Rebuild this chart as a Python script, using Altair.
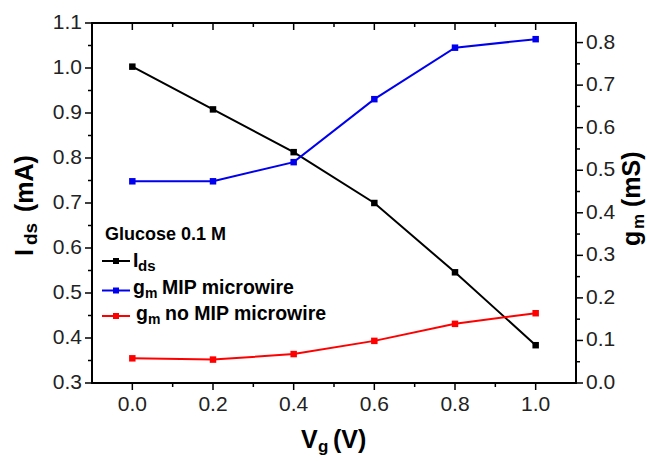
import altair as alt
import pandas as pd

# ---------------- data ----------------
vg = [0.0, 0.2, 0.4, 0.6, 0.8, 1.0]
ids_ma = [1.003, 0.908, 0.813, 0.700, 0.546, 0.384]
gm_mip = [0.474, 0.474, 0.519, 0.667, 0.788, 0.808]
gm_nomip = [0.058, 0.055, 0.068, 0.099, 0.139, 0.164]

x_major = [0.0, 0.2, 0.4, 0.6, 0.8, 1.0]
x_major_labels = ["0.0", "0.2", "0.4", "0.6", "0.8", "1.0"]
x_minor = [0.1, 0.3, 0.5, 0.7, 0.9]
yl_major = [0.3, 0.4, 0.5, 0.6, 0.7, 0.8, 0.9, 1.0, 1.1]
yl_major_labels = ["0.3", "0.4", "0.5", "0.6", "0.7", "0.8", "0.9", "1.0", "1.1"]
yl_minor = [0.35, 0.45, 0.55, 0.65, 0.75, 0.85, 0.95, 1.05]
yr_major = [0.0, 0.1, 0.2, 0.3, 0.4, 0.5, 0.6, 0.7, 0.8]
yr_major_labels = ["0.0", "0.1", "0.2", "0.3", "0.4", "0.5", "0.6", "0.7", "0.8"]
yr_minor = [0.05, 0.15, 0.25, 0.35, 0.45, 0.55, 0.65, 0.75]

series_names = ["MIP microwire", "no MIP microwire"]
series_colors = ["#0000ee", "#ff0000"]

FONT = "Liberation Sans"
W, H = 484, 360
OX, OY = 92, 23  # plot origin in page pixels

df_ids = pd.DataFrame({"Vg": vg, "val": ids_ma})
df_gm = pd.DataFrame({
    "Vg": vg + vg,
    "val": gm_mip + gm_nomip,
    "series": [series_names[0]] * len(vg) + [series_names[1]] * len(vg),
})

xs = alt.Scale(domain=[-0.1, 1.1], nice=False, zero=False)
yl = alt.Scale(domain=[0.3, 1.1], nice=False, zero=False)
yr = alt.Scale(domain=[0.0, 0.846], nice=False, zero=False)

TICK_W = 1.5
LABEL_SIZE = 21
LABEL_COLOR = "#222222"


def ticks_y(values, scale, x1, x2):
    return alt.Chart(pd.DataFrame({"t": values})).mark_rule(color="black", strokeWidth=TICK_W).encode(
        y=alt.Y("t:Q", scale=scale, axis=None), x=alt.value(x1), x2=alt.value(x2)
    )


def ticks_x(values, y1, y2):
    return alt.Chart(pd.DataFrame({"t": values})).mark_rule(color="black", strokeWidth=TICK_W).encode(
        x=alt.X("t:Q", scale=xs, axis=None), y=alt.value(y1), y2=alt.value(y2)
    )


def labels_y(values, texts, scale, x, align):
    return alt.Chart(pd.DataFrame({"t": values, "s": texts})).mark_text(
        font=FONT, fontSize=LABEL_SIZE, color=LABEL_COLOR, align=align, baseline="middle"
    ).encode(y=alt.Y("t:Q", scale=scale, axis=None), x=alt.value(x), text="s:N")


# ---------------- left group (I_ds) ----------------
ids_line = alt.Chart(df_ids).mark_line(color="black", strokeWidth=2).encode(
    x=alt.X("Vg:Q", scale=xs, axis=None),
    y=alt.Y("val:Q", scale=yl, axis=None),
)
ids_pts = alt.Chart(df_ids).mark_square(color="black", size=42, opacity=1).encode(
    x=alt.X("Vg:Q", scale=xs, axis=None),
    y=alt.Y("val:Q", scale=yl, axis=None),
)
x_labels = alt.Chart(pd.DataFrame({"t": x_major, "s": x_major_labels})).mark_text(
    font=FONT, fontSize=LABEL_SIZE, color=LABEL_COLOR, align="center", baseline="middle"
).encode(x=alt.X("t:Q", scale=xs, axis=None), y=alt.value(H + 22), text="s:N")

left_group = alt.layer(
    ids_line, ids_pts,
    ticks_y(yl_major, yl, -7, 0), ticks_y(yl_minor, yl, -4, 0),
    labels_y(yl_major, yl_major_labels, yl, -10, "right"),
    ticks_x(x_major, H, H + 7), ticks_x(x_minor, H, H + 4),
    ticks_x(x_major, 0, 7), ticks_x(x_minor, 0, 4),
    x_labels,
)

# ---------------- right group (g_m) ----------------
color_scale = alt.Scale(domain=series_names, range=series_colors)
gm_line = alt.Chart(df_gm).mark_line(strokeWidth=2).encode(
    x=alt.X("Vg:Q", scale=xs, axis=None),
    y=alt.Y("val:Q", scale=yr, axis=None),
    color=alt.Color("series:N", scale=color_scale, legend=None),
)
gm_pts = alt.Chart(df_gm).mark_square(size=42, opacity=1).encode(
    x=alt.X("Vg:Q", scale=xs, axis=None),
    y=alt.Y("val:Q", scale=yr, axis=None),
    color=alt.Color("series:N", scale=color_scale, legend=None),
)
right_group = alt.layer(
    gm_line, gm_pts,
    ticks_y(yr_major, yr, W, W + 7), ticks_y(yr_minor, yr, W, W + 4),
    labels_y(yr_major, yr_major_labels, yr, W + 10, "left"),
)

# ---------------- annotations ----------------
_one = pd.DataFrame({"a": [0]})


def txt(text, x, y, size, angle=0, weight="bold", color="black"):
    return alt.Chart(_one).mark_text(
        text=text, font=FONT, fontSize=size, fontWeight=weight, angle=angle,
        align="left", baseline="alphabetic", color=color,
    ).encode(x=alt.value(x - OX), y=alt.value(y - OY))


def seg(x1, x2, y, color):
    return alt.Chart(_one).mark_rule(color=color, strokeWidth=2).encode(
        x=alt.value(x1 - OX), x2=alt.value(x2 - OX), y=alt.value(y - OY)
    )


def sq(x, y, color):
    return alt.Chart(_one).mark_square(color=color, size=36, opacity=1).encode(
        x=alt.value(x - OX), y=alt.value(y - OY)
    )


annos = [
    # left axis title
    txt("I", 33, 256, 25, angle=270),
    txt("ds", 37, 245, 19, angle=270),
    txt("(mA)", 33, 212, 25, angle=270),
    # right axis title
    txt("g", 640, 246, 25, angle=270),
    txt("m", 644, 229, 17, angle=270),
    txt("(mS)", 640, 207, 25, angle=270),
    # bottom axis title
    txt("V", 301, 448, 25),
    txt("g", 318, 452, 17),
    txt("(V)", 333, 448, 25),
    # legend
    txt("Glucose 0.1 M", 105, 240, 18),
    seg(102, 130, 261, "black"), sq(116, 261, "black"),
    txt("I", 133, 267, 19.5),
    txt("ds", 138, 271, 15),
    seg(102, 130, 290.5, series_colors[0]), sq(116, 290.5, series_colors[0]),
    txt("g", 133, 294, 19.5),
    txt("m", 145, 298, 14),
    txt("MIP microwire", 162, 294, 19.5),
    seg(102, 130, 316, series_colors[1]), sq(116, 316, series_colors[1]),
    txt("g", 136, 320, 19.5),
    txt("m", 148, 324, 14),
    txt("no MIP microwire", 165, 320, 19.5),
]

chart = alt.layer(left_group, right_group, *annos).resolve_scale(
    y="independent"
).properties(
    width=W, height=H,
    autosize=alt.AutoSizeParams(type="none"),
    padding={"left": OX, "top": OY, "right": 647 - OX - W, "bottom": 461 - OY - H},
    background="white",
).configure_view(stroke="black", strokeWidth=2)

chart.save("out.html", embed_options={"renderer": "svg", "actions": False})
